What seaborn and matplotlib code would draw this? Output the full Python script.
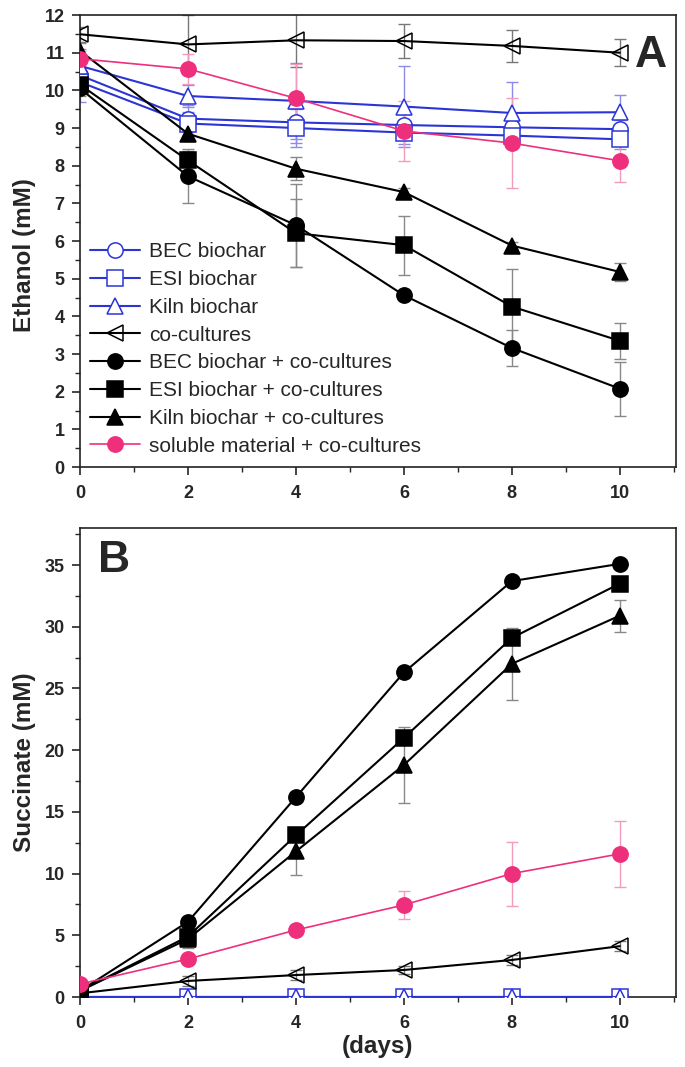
import matplotlib
matplotlib.use("Agg")
import matplotlib.pyplot as plt
import pandas as pd
import seaborn as sns

days = [0, 2, 4, 6, 8, 10]

labels = ["BEC biochar", "ESI biochar", "Kiln biochar", "co-cultures",
          "BEC biochar + co-cultures", "ESI biochar + co-cultures",
          "Kiln biochar + co-cultures", "soluble material + co-cultures"]

# Ethanol (mM), panel A
eth_bec = [10.40, 9.25, 9.15, 9.08, 9.02, 8.97]
eth_esi = [10.22, 9.12, 9.00, 8.88, 8.80, 8.70]
eth_kiln = [10.65, 9.85, 9.72, 9.57, 9.40, 9.42]
eth_co = [11.49, 11.22, 11.33, 11.31, 11.18, 11.00]
eth_bec_co = [10.05, 7.72, 6.42, 4.56, 3.16, 2.08]
eth_esi_co = [10.15, 8.14, 6.21, 5.89, 4.26, 3.35]
eth_kiln_co = [11.05, 8.85, 7.92, 7.30, 5.88, 5.18]
eth_sol = [10.84, 10.57, 9.79, 8.92, 8.60, 8.13]

eth_bec_err = [0.7, 0.35, 0.55, 0.3, 0.3, 0.25]
eth_esi_err = [0.3, 0.3, 0.5, 0.3, 0.3, 0.25]
eth_kiln_err = [0.3, 0.3, 1.0, 1.07, 0.82, 0.47]
eth_co_err = [0.2, 0.78, 0.7, 0.44, 0.42, 0.36]
eth_bec_co_err = [0.2, 0.72, 1.1, 0.1, 0.48, 0.72]
eth_esi_co_err = [0.2, 0.25, 0.9, 0.78, 1.0, 0.47]
eth_kiln_co_err = [0.2, 0.2, 0.3, 0.1, 0.1, 0.25]
eth_sol_err = [0.2, 0.4, 0.9, 0.8, 1.2, 0.55]

# Succinate (mM), panel B
suc_bec = [0.0, 0.0, 0.0, 0.0, 0.0, 0.0]
suc_esi = [0.0, 0.0, 0.0, 0.0, 0.0, 0.0]
suc_kiln = [0.0, 0.0, 0.0, 0.0, 0.0, 0.0]
suc_co = [0.3, 1.3, 1.78, 2.19, 3.0, 4.12]
suc_bec_co = [0.5, 6.1, 16.2, 26.3, 33.7, 35.1]
suc_esi_co = [0.5, 4.9, 13.1, 21.0, 29.1, 33.5]
suc_kiln_co = [0.5, 4.7, 11.8, 18.8, 27.0, 30.9]
suc_sol = [1.05, 3.08, 5.43, 7.46, 10.0, 11.6]

suc_co_err = [0.1, 0.4, 0.4, 0.3, 0.4, 0.4]
suc_bec_co_err = [0.1, 0.3, 0.2, 0.4, 0.2, 0.2]
suc_esi_co_err = [0.1, 0.6, 0.4, 0.5, 0.4, 0.3]
suc_kiln_co_err = [0.1, 0.7, 1.9, 3.1, 2.9, 1.3]
suc_sol_err = [0.1, 0.3, 0.3, 1.1, 2.6, 2.7]
suc_zero_err = [0.0] * 6

blue = "#2b35d6"
pink = "#ee2f7c"
styles = [
    dict(marker="o", color=blue, mfc="white", ecolor="#8c8ce8"),
    dict(marker="s", color=blue, mfc="white", ecolor="#8c8ce8"),
    dict(marker="^", color=blue, mfc="white", ecolor="#8c8ce8"),
    dict(marker="<", color="black", mfc="none", ecolor="#777777"),
    dict(marker="o", color="black", mfc="black", ecolor="#888888"),
    dict(marker="s", color="black", mfc="black", ecolor="#888888"),
    dict(marker="^", color="black", mfc="black", ecolor="#888888"),
    dict(marker="o", color=pink, mfc=pink, ecolor="#f29bbd"),
]

eth_vals = [eth_bec, eth_esi, eth_kiln, eth_co, eth_bec_co, eth_esi_co, eth_kiln_co, eth_sol]
eth_errs = [eth_bec_err, eth_esi_err, eth_kiln_err, eth_co_err, eth_bec_co_err,
            eth_esi_co_err, eth_kiln_co_err, eth_sol_err]
suc_vals = [suc_bec, suc_esi, suc_kiln, suc_co, suc_bec_co, suc_esi_co, suc_kiln_co, suc_sol]
suc_errs = [suc_zero_err, suc_zero_err, suc_zero_err, suc_co_err, suc_bec_co_err,
            suc_esi_co_err, suc_kiln_co_err, suc_sol_err]

sns.set_theme(style="ticks")
plt.rcParams["font.family"] = ["Liberation Sans", "DejaVu Sans"]

fig = plt.figure(figsize=(6.85, 10.67), dpi=100)
ax1 = fig.add_axes([0.1168, 0.5623, 0.870, 0.4236])
ax2 = fig.add_axes([0.1168, 0.0656, 0.870, 0.4395])


def draw_panel(ax, vals, errs):
    for lab, v, e, st in zip(labels, vals, errs, styles):
        lw = 1.2 if st["color"] == pink else 1.5
        ax.errorbar(days, v, yerr=e, fmt="none", ecolor=st["ecolor"],
                    elinewidth=1.0, capsize=4, capthick=1.0, zorder=2)
        df = pd.DataFrame({"day": days, "val": v})
        sns.lineplot(data=df, x="day", y="val", ax=ax, color=st["color"],
                     marker=st["marker"], markersize=11, markerfacecolor=st["mfc"],
                     markeredgecolor=st["color"], markeredgewidth=1.1,
                     linewidth=lw, label=lab, zorder=3)


draw_panel(ax1, eth_vals, eth_errs)
draw_panel(ax2, suc_vals, suc_errs)

ax1.set_xlim(0, 11.04)
ax1.set_ylim(0, 12)
ax1.set_yticks(range(0, 13))
ax1.set_yticks([i + 0.5 for i in range(12)], minor=True)
ax1.set_ylabel("Ethanol (mM)", fontsize=17.5, fontweight="bold")
ax1.yaxis.set_label_coords(-0.074, 0.47)
ax1.set_xlabel("")

ax2.set_xlim(0, 11.04)
ax2.set_ylim(0, 38)
ax2.set_yticks(range(0, 36, 5))
ax2.set_yticks([2.5 + 5 * i for i in range(8)], minor=True)
ax2.set_ylabel("Succinate (mM)", fontsize=17.5, fontweight="bold", labelpad=6)
ax2.set_xlabel("(days)", fontsize=17.5, fontweight="bold", labelpad=2)

for ax in (ax1, ax2):
    ax.set_xticks(range(0, 11, 2))
    ax.set_xticks(range(1, 12, 2), minor=True)
    for lbl in ax.get_xticklabels() + ax.get_yticklabels():
        lbl.set_fontsize(13)
        lbl.set_fontweight("bold")
    ax.tick_params(which="major", direction="out", length=6, width=1.2)
    ax.tick_params(which="minor", direction="out", length=3.5, width=1.0)
    ax.tick_params(axis="x", which="major", pad=7)
    ax.tick_params(axis="y", which="major", pad=5)
    for sp in ax.spines.values():
        sp.set_visible(True)
        sp.set_linewidth(1.2)
        sp.set_color("#222222")

ax1.legend(loc="upper left", bbox_to_anchor=(0.0, 0.52), frameon=False,
           fontsize=15, handlelength=2.4, handletextpad=0.4,
           labelspacing=0.42, borderaxespad=0.1, borderpad=0.4)
ax2.get_legend().remove()

ax1.text(0.985, 0.955, "A", transform=ax1.transAxes, ha="right", va="top",
         fontsize=32, fontweight="bold")
ax2.text(0.03, 0.975, "B", transform=ax2.transAxes, ha="left", va="top",
         fontsize=32, fontweight="bold")

fig.savefig("out.png", dpi=100)
